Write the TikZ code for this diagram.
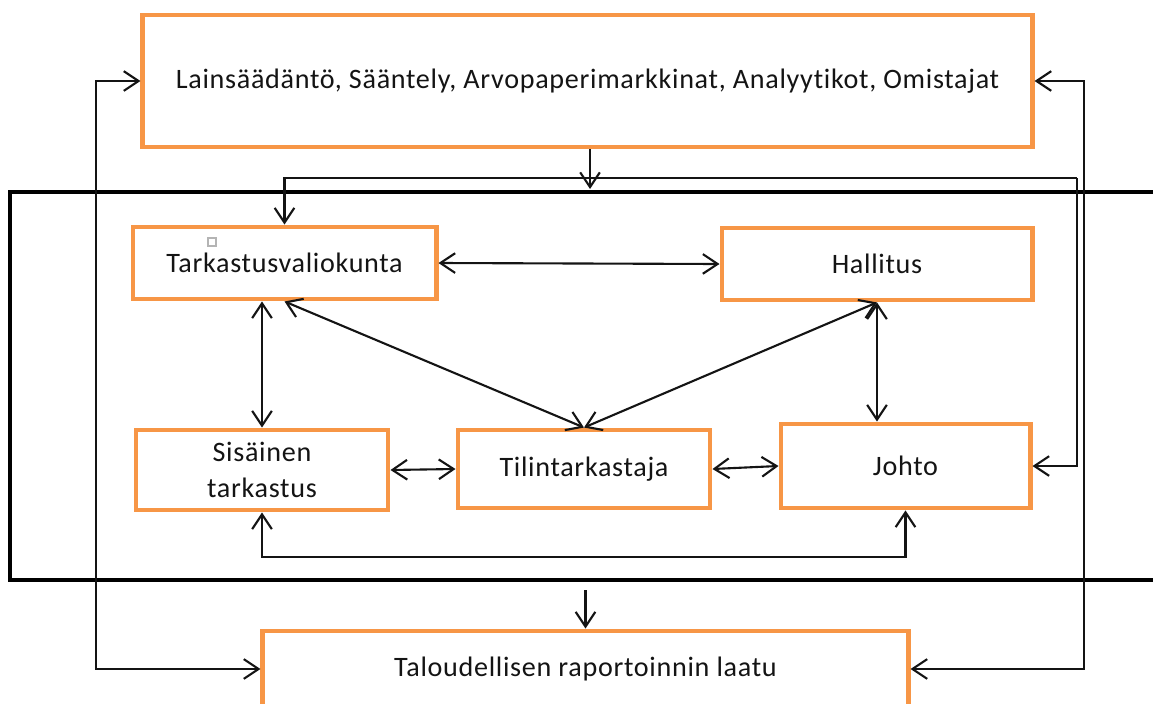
\documentclass[tikz,border=0pt]{standalone}
\usepackage{fontspec}
\setmainfont{Carlito}[Ligatures=NoCommon, LetterSpace=2.5]
\usetikzlibrary{arrows.meta,positioning,calc}
\definecolor{ink}{HTML}{141414}
\definecolor{accent}{HTML}{F79646}
\definecolor{handle}{HTML}{B4B4B4}

\begin{document}
\begin{tikzpicture}[
  x=0.025cm, y=-0.025cm,
  font=\fontsize{20}{25}\selectfont, text=ink, >={Straight Barb[length=10.5pt,width=14pt]},
  blk/.style={draw=accent, line width=3.5pt, fill=white, align=center, inner sep=2pt},
  pw/.style={->, draw=ink, line width=1.5pt},
  lnk/.style={<->, draw=ink, line width=1.5pt},
  frm/.style={draw=black, line width=3.5pt, line join=miter}]
\useasboundingbox (0,0) rectangle (1153,704);
\draw[frm] (1170,192) -- (10,192) -- (10,580) -- (1170,580);
\node[blk, minimum width=22.225cm, minimum height=3.3cm] (top) at (587.5,81)
  {Lainsäädäntö, Sääntely, Arvopaperimarkkinat, Analyytikot, Omistajat};
\node[blk, minimum width=7.575cm, minimum height=1.8cm] (tark) at (284.5,263) {Tarkastusvaliokunta};
\node[blk, minimum width=7.75cm, minimum height=1.8cm] (hall) at (877,264) {Hallitus};
\node[blk, minimum width=6.3cm, minimum height=2.0cm] (sis) at (262,470) {Sisäinen\\tarkastus};
\node[blk, minimum width=6.3cm, minimum height=1.95cm] (tili) at (584,469) {Tilintarkastaja};
\node[blk, minimum width=6.225cm, minimum height=2.1cm] (johto) at (905.5,466) {Johto};
\node[blk, minimum width=16.125cm, minimum height=1.9cm] (laatu) at (585.5,669) {Taloudellisen raportoinnin laatu};
\node[draw=handle, line width=0.8pt, fill=white, minimum size=0.2cm, inner sep=0pt] (hnd) at (212,242) {};
\coordinate (fin) at (590,189);
\coordinate (fout) at (585.5,590);
\coordinate (busr) at (1077,178);
\coordinate (busl) at (tark.north |- busr);
\coordinate (lx) at (96,0);
\coordinate (rx) at (1084,0);
\coordinate (loop) at (0,557);
\draw[pw] (top.south -| fin) -- (fin);
\draw[pw] (busr) -- (busl) -- (tark.north);
\draw[pw] (busr) |- (johto.east);
\draw[lnk] (top.west) -- (top.west -| lx) |- (laatu.west);
\draw[lnk] (top.east) -- (top.east -| rx) |- (laatu.east);
\draw[pw] (fout) -- (laatu.north);
\draw[lnk] (tark.east) -- (hall.west);
\draw[lnk] (sis.north |- tark.south) -- (sis.north);
\draw[lnk] (tark.south) -- (tili.north);
\draw[lnk] (hall.south) -- (tili.north);
\draw[lnk] (hall.south) -- (hall.south |- johto.north);
\draw[lnk] (sis.east) -- (tili.west);
\draw[lnk] (tili.east) -- (johto.west);
\draw[lnk] (sis.south) -- (sis.south |- loop) -| (johto.south);
\end{tikzpicture}
\end{document}
